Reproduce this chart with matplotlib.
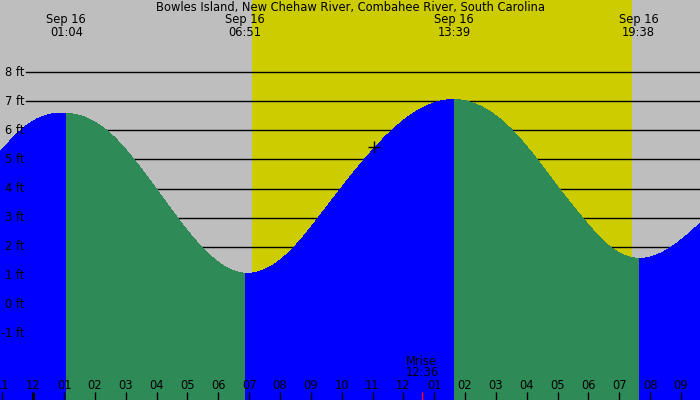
import numpy as np
import matplotlib
matplotlib.use("Agg")
import matplotlib.pyplot as plt

# tide heights (hours after midnight Sep 16, feet)
tide_hours = [-1.08, -0.24, 1.067, 2.381, 3.266, 3.980, 4.671, 5.449, 6.05, 6.85,
              7.68, 8.466, 9.244, 9.971, 10.736, 11.625, 13.65,
              15.537, 16.338, 17.052, 17.807, 18.706, 19.633, 20.707, 21.62]
tide_feet = [5.26, 6.15, 6.59, 6.0, 5.0, 4.0, 3.0, 2.0, 1.43, 1.09,
             1.31, 2.0, 3.0, 4.0, 5.0, 6.0, 7.06,
             6.0, 5.0, 4.0, 3.0, 2.0, 1.60, 2.0, 2.80]

# high / low tides shown in the header
extreme_hours = [1.067, 6.85, 13.65, 19.633]
extreme_labels = ["01:04", "06:51", "13:39", "19:38"]

sunrise = 7.08
sunset = 19.41
moonrise = 12.6
moonrise_label = "12:36"
now_hour = 11.06
now_feet = 5.44

title = "Bowles Island, New Chehaw River, Combahee River, South Carolina"
date_label = "Sep 16"
ft_levels = [-1, 0, 1, 2, 3, 4, 5, 6, 7, 8]
hour_ticks = list(range(-1, 22))


def spline(x, y, xs):
    # natural cubic spline through the read points
    x = np.asarray(x, float)
    y = np.asarray(y, float)
    n = len(x)
    h = np.diff(x)
    A = np.zeros((n, n))
    r = np.zeros(n)
    A[0, 0] = A[-1, -1] = 1
    for k in range(1, n - 1):
        A[k, k - 1] = h[k - 1]
        A[k, k] = 2 * (h[k - 1] + h[k])
        A[k, k + 1] = h[k]
        r[k] = 6 * ((y[k + 1] - y[k]) / h[k] - (y[k] - y[k - 1]) / h[k - 1])
    M = np.linalg.solve(A, r)
    i = np.clip(np.searchsorted(x, xs) - 1, 0, n - 2)
    a = x[i + 1] - xs
    b = xs - x[i]
    hi = h[i]
    return (M[i] * a**3 / (6 * hi) + M[i + 1] * b**3 / (6 * hi)
            + (y[i] / hi - M[i] * hi / 6) * a + (y[i + 1] / hi - M[i + 1] * hi / 6) * b)


gray = "#bebebe"
yellow = "#cccc00"
blue = "#0000ff"
green = "#2e8b57"
fs = 8.3

fig = plt.figure(figsize=(7, 4), dpi=100)
ax = fig.add_axes([0, 0, 1, 1])
ax.set_xlim(-1.08, 21.62)
ax.set_ylim(-3.27, 10.48)
ax.set_facecolor(gray)
for s in ax.spines.values():
    s.set_visible(False)
ax.set_xticks([])
ax.set_yticks([])

ax.axvspan(sunrise, sunset, color=yellow, lw=0, zorder=1)

for lv in ft_levels:
    ax.axhline(lv, xmin=26 / 700, xmax=1, color="black", lw=1.0, zorder=2)

xs = np.linspace(tide_hours[0], tide_hours[-1], 2000)
ys = spline(tide_hours, tide_feet, xs)
# whole curve blue (rising water), falling stretches green on top
ax.fill_between(xs, -10, ys, color=blue, lw=0, antialiased=False, zorder=3)
for hi_t, lo_t in [(extreme_hours[0], extreme_hours[1]), (extreme_hours[2], extreme_hours[3])]:
    seg = (xs >= hi_t) & (xs <= lo_t)
    ax.fill_between(xs[seg], -10, ys[seg], color=green, lw=0, antialiased=False, zorder=4)

ax.plot([now_hour], [now_feet], marker="+", color="black", ms=9, mew=1.0, zorder=5)

ytr = ax.get_yaxis_transform()
for lv in ft_levels:
    ax.text(24.5 / 700, lv, f"{lv} ft", transform=ytr, ha="right", va="center",
            fontsize=fs, zorder=6)

xtr = ax.get_xaxis_transform()
ax.text(0.5, 1 - 8 / 400, title, transform=ax.transAxes, ha="center", va="center",
        fontsize=fs, zorder=6)
for hr, lab in zip(extreme_hours, extreme_labels):
    ax.text(hr, 1 - 20 / 400, date_label, transform=xtr, ha="center", va="center",
            fontsize=fs, zorder=6)
    ax.text(hr, 1 - 32 / 400, lab, transform=xtr, ha="center", va="center",
            fontsize=fs, zorder=6)

for hr in hour_ticks:
    lab = "%02d" % (hr % 12 if hr % 12 else 12)
    ax.text(hr, 14.5 / 400, lab, transform=xtr, ha="center", va="center",
            fontsize=fs, zorder=6)
    ax.plot([hr, hr], [0, 8 / 400], transform=xtr, color="black",
            lw=2.2 if hr == 0 else 1.0, zorder=6, solid_capstyle="butt")

ax.text(moonrise, 38.5 / 400, "Mrise", transform=xtr, ha="center", va="center",
        fontsize=fs, zorder=6)
ax.text(moonrise, 27 / 400, moonrise_label, transform=xtr, ha="center", va="center",
        fontsize=fs, zorder=6)
ax.plot([moonrise, moonrise], [0, 8 / 400], transform=xtr, color="red", lw=1.0,
        zorder=6, solid_capstyle="butt")

fig.savefig("out.png", dpi=100)
